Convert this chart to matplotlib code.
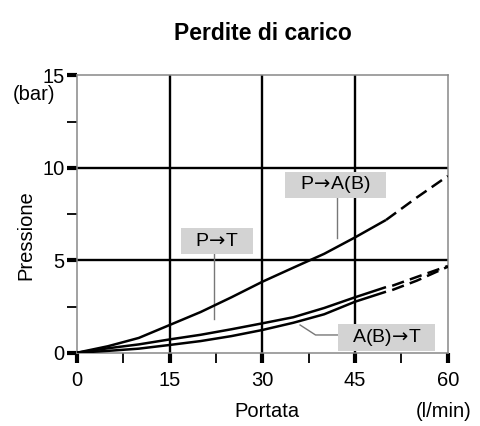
import matplotlib
matplotlib.use("Agg")
import matplotlib.pyplot as plt
from matplotlib.ticker import MultipleLocator

plt.rcParams["font.family"] = ["Liberation Sans", "DejaVu Sans"]

# Flow (l/min) and pressure drop (bar)
FLOW_SOLID = [0, 5, 10, 15, 20, 25, 30, 35, 40, 45, 50]
FLOW_DASH = [50, 55, 60]
FLOW_DASH_LOW = [51, 55, 60]

P_TO_AB = [0, 0.35, 0.8, 1.5, 2.2, 3.0, 3.84, 4.6, 5.35, 6.24, 7.18]
P_TO_AB_EXT = [7.18, 8.4, 9.56]

P_TO_T = [0, 0.24, 0.45, 0.72, 0.97, 1.27, 1.59, 1.92, 2.42, 3.0, 3.55]
P_TO_T_EXT = [3.62, 4.1, 4.69]

AB_TO_T = [0, 0.1, 0.22, 0.42, 0.63, 0.9, 1.23, 1.62, 2.08, 2.76, 3.3]
AB_TO_T_EXT = [3.39, 3.9, 4.65]

# negative spaces pull the mathtext arrow closer to the letters
ARROW = "$\\!{\\rightarrow}\\!$"
LABELS = ["P" + ARROW + "A(B)", "P" + ARROW + "T", "A(B)" + ARROW + "T"]
# box extents (x0, x1, y0, y1) and leader polylines, data coordinates
BOXES = [(33.7, 50.0, 8.36, 9.79), (16.8, 28.5, 5.34, 6.73), (42.2, 58.0, 0.11, 1.55)]
LEADERS = [
    ([42.0, 42.0], [8.36, 6.2]),
    ([22.2, 22.2], [5.34, 1.85]),
    ([42.2, 38.6, 36.1], [0.96, 0.96, 1.5]),
]

fig = plt.figure(figsize=(4.81, 4.26), dpi=100)
ax = fig.add_axes([0.160, 0.172, 0.771, 0.651])

lw = 1.8
for ys, ys_ext, xd in [(P_TO_AB, P_TO_AB_EXT, FLOW_DASH),
                       (P_TO_T, P_TO_T_EXT, FLOW_DASH_LOW),
                       (AB_TO_T, AB_TO_T_EXT, FLOW_DASH_LOW)]:
    ax.plot(FLOW_SOLID, ys, color="black", lw=lw, solid_capstyle="butt", zorder=3)
    ax.plot(xd, ys_ext, color="black", lw=lw, dashes=(5, 2.5), zorder=3)

for (x0, x1, y0, y1), txt in zip(BOXES, LABELS):
    ax.add_patch(plt.Rectangle((x0, y0), x1 - x0, y1 - y0, facecolor="#d3d3d3",
                               edgecolor="none", zorder=4))
    ax.text((x0 + x1) / 2, (y0 + y1) / 2, txt, ha="center", va="center",
            fontsize=14, zorder=5)

for xs, ys in LEADERS:
    ax.plot(xs, ys, color="#777777", lw=1.0, zorder=2)

# black inner grid, grey frame
for v in [15, 30, 45]:
    ax.axvline(v, color="black", lw=1.7, zorder=1)
for v in [5, 10]:
    ax.axhline(v, color="black", lw=1.7, zorder=1)

ax.set_xlim(0, 60)
ax.set_ylim(0, 15)
for s in ax.spines.values():
    s.set_color("#888888")
    s.set_linewidth(1.1)

ax.xaxis.set_major_locator(MultipleLocator(15))
ax.xaxis.set_minor_locator(MultipleLocator(7.5))
ax.yaxis.set_major_locator(MultipleLocator(5))
ax.yaxis.set_minor_locator(MultipleLocator(2.5))
ax.tick_params(which="major", direction="out", length=7, width=3, color="black",
               labelsize=14.5)
ax.tick_params(which="minor", direction="out", length=7, width=1.3, color="black")
ax.tick_params(axis="x", which="major", pad=6)
ax.tick_params(axis="y", which="major", pad=2)

fig.text(0.547, 0.922, "Perdite di carico", ha="center", va="center",
         fontsize=16.5, fontweight="bold")
fig.text(0.071, 0.777, "(bar)", ha="center", va="center", fontsize=14.5)
fig.text(0.054, 0.448, "Pressione", ha="center", va="center", rotation=90,
         fontsize=14.5)
fig.text(0.555, 0.033, "Portata", ha="center", va="center", fontsize=14.5)
fig.text(0.922, 0.033, "(l/min)", ha="center", va="center", fontsize=14.5)

fig.savefig("out.png", dpi=100)
